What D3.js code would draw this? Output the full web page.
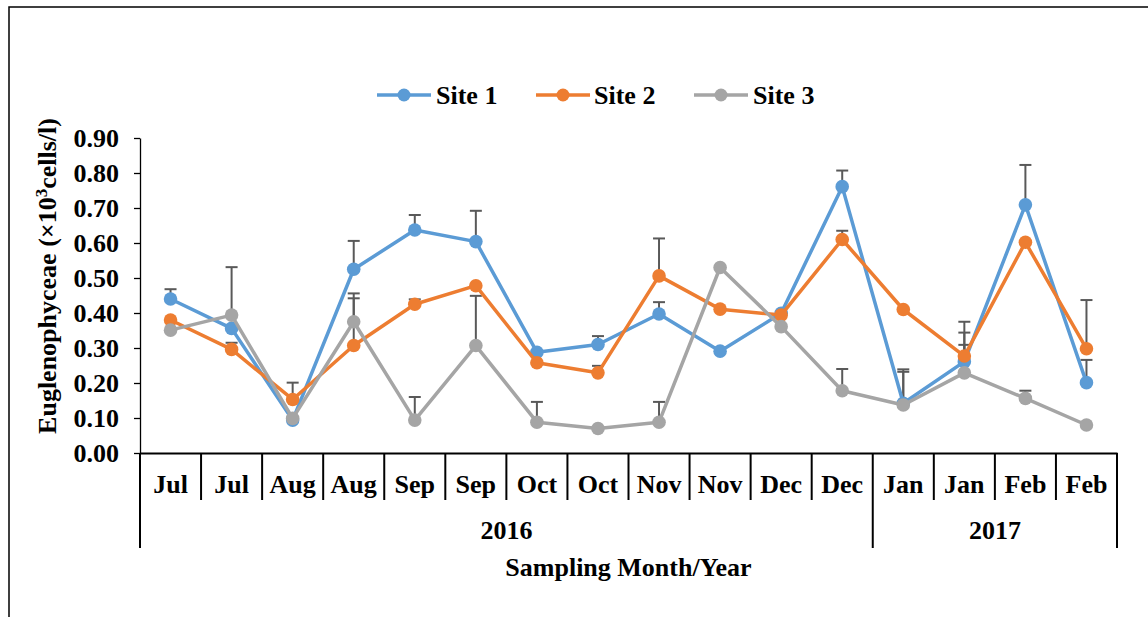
<!DOCTYPE html>
<html>
<head>
<meta charset="utf-8">
<script src="https://cdn.jsdelivr.net/npm/d3@7"></script>
<style>
  html, body { margin: 0; padding: 0; background: #fff; }
  svg { display: block; }
  svg text { font-family: "Liberation Serif", Tinos, "Times New Roman", Times, "DejaVu Serif", serif !important; font-weight: bold; fill: #000; }
</style>
</head>
<body>
<svg id="chart" width="1148" height="617"></svg>
<script>
// Sampling months (two samplings per month) and the year groups below them
const months = ["Jul","Jul","Aug","Aug","Sep","Sep","Oct","Oct","Nov","Nov","Dec","Dec","Jan","Jan","Feb","Feb"];
const yearLabels = ["2016", "2017"];
const yearSpans = [12, 4];

// Euglenophyceae density (×10³ cells/l) per site
const site1 = [0.44, 0.356, 0.094, 0.525, 0.637, 0.604, 0.288, 0.31, 0.397, 0.291, 0.399, 0.761, 0.142, 0.261, 0.709, 0.201];
const site2 = [0.38, 0.296, 0.153, 0.307, 0.425, 0.478, 0.258, 0.229, 0.506, 0.411, 0.394, 0.61, 0.41, 0.277, 0.602, 0.298];
const site3 = [0.351, 0.394, 0.099, 0.375, 0.094, 0.307, 0.088, 0.07, 0.088, 0.53, 0.361, 0.178, 0.137, 0.229, 0.156, 0.08];

// Upper error (standard deviation), null where no bar is drawn
const site1Err = [0.028, null, null, 0.081, 0.043, 0.088, null, 0.024, 0.034, null, null, 0.046, 0.097, 0.114, 0.114, 0.065];
const site2Err = [null, 0.019, 0.048, 0.135, 0.014, null, null, 0.02, 0.107, null, null, 0.025, null, 0.067, null, 0.139];
const site3Err = [null, 0.137, null, 0.081, 0.066, 0.142, 0.058, null, 0.058, null, null, 0.062, 0.095, 0.08, 0.022, null];

const seriesNames = ["Site 1", "Site 2", "Site 3"];
const seriesColors = ["#5B9BD5", "#ED7D31", "#A5A5A5"];
const yTicks = [0, 0.1, 0.2, 0.3, 0.4, 0.5, 0.6, 0.7, 0.8, 0.9];

const series = [
  { name: seriesNames[0], color: seriesColors[0], values: site1, err: site1Err },
  { name: seriesNames[1], color: seriesColors[1], values: site2, err: site2Err },
  { name: seriesNames[2], color: seriesColors[2], values: site3, err: site3Err }
];

const FONT = '"Liberation Serif", Tinos, "Times New Roman", Times, "DejaVu Serif", serif';

const svg = d3.select("#chart");
const plot = { left: 140, right: 1117, top: 138, bottom: 453 };

// outer frame
svg.append("rect")
  .attr("x", 9).attr("y", 7).attr("width", 1400).attr("height", 800)
  .attr("fill", "none").attr("stroke", "#000").attr("stroke-width", 1.5);

const x = d3.scaleBand()
  .domain(d3.range(months.length))
  .range([plot.left, plot.right])
  .padding(0);

const y = d3.scaleLinear()
  .domain([0, 0.9])
  .range([plot.bottom, plot.top]);

// y axis
const yAxis = d3.axisLeft(y)
  .tickValues(yTicks)
  .tickFormat(d3.format(".2f"))
  .tickSize(6)
  .tickSizeOuter(0);

const yg = svg.append("g")
  .attr("transform", `translate(${plot.left},0)`)
  .call(yAxis)
  .attr("font-family", FONT)
  .attr("font-size", 26);
yg.select(".domain").attr("stroke", "#000").attr("stroke-width", 1.3);
yg.selectAll(".tick line").attr("stroke", "#000").attr("stroke-width", 1.3);
yg.selectAll(".tick text")
  .attr("x", -21)
  .attr("dy", "0.34em")
  .style("font-size", "26px")
  .attr("fill", "#000");

// x axis: baseline plus category separators
const xAxis = d3.axisBottom(x).tickSize(0).tickFormat(i => months[i]);
const xg = svg.append("g")
  .attr("transform", `translate(0,${plot.bottom})`)
  .call(xAxis)
  .attr("font-family", FONT)
  .attr("font-size", 26);
xg.select(".domain").attr("stroke", "#000").attr("stroke-width", 2.2);
xg.selectAll(".tick text")
  .attr("y", 40)
  .attr("dy", 0)
  .style("font-size", "26px")
  .attr("fill", "#000");

// year boundaries (long separators)
const yearBounds = [0];
yearSpans.forEach((s, i) => yearBounds.push(yearBounds[i] + s));
const boundaryX = i => (i < months.length ? x(i) : x(months.length - 1) + x.bandwidth());

d3.range(months.length + 1).forEach(i => {
  const isYear = yearBounds.includes(i);
  svg.append("line")
    .attr("x1", boundaryX(i)).attr("x2", boundaryX(i))
    .attr("y1", plot.bottom).attr("y2", isYear ? 548 : 500)
    .attr("stroke", "#000").attr("stroke-width", 2);
});

yearLabels.forEach((lab, i) => {
  const x0 = boundaryX(yearBounds[i]);
  const x1 = boundaryX(yearBounds[i + 1]);
  svg.append("text")
    .attr("x", (x0 + x1) / 2).attr("y", 539)
    .attr("text-anchor", "middle")
    .style("font-size", "26px")
    .text(lab);
});

// axis titles
svg.append("text")
  .attr("x", (plot.left + plot.right) / 2).attr("y", 576)
  .attr("text-anchor", "middle")
  .style("font-size", "26px")
  .text("Sampling Month/Year");

const yTitle = svg.append("text")
  .attr("transform", `translate(56,276) rotate(-90)`)
  .attr("text-anchor", "middle")
  .style("font-size", "26px");
yTitle.append("tspan").text("Euglenophyceae (×10");
yTitle.append("tspan").attr("dy", -9).style("font-size", "17px").text("3");
yTitle.append("tspan").attr("dy", 9).text("cells/l)");

const cx = i => x(i) + x.bandwidth() / 2;
const line = d3.line().x((d, i) => cx(i)).y(d => y(d));

// error bars (upper only)
series.forEach(s => {
  const g = svg.append("g");
  s.values.forEach((v, i) => {
    const e = s.err[i];
    if (e == null) return;
    g.append("line")
      .attr("x1", cx(i)).attr("x2", cx(i))
      .attr("y1", y(v)).attr("y2", y(v + e))
      .attr("stroke", "#595959").attr("stroke-width", 2);
    g.append("line")
      .attr("x1", cx(i) - 6).attr("x2", cx(i) + 6)
      .attr("y1", y(v + e)).attr("y2", y(v + e))
      .attr("stroke", "#595959").attr("stroke-width", 2);
  });
});

// series lines and markers
series.forEach(s => {
  svg.append("path")
    .datum(s.values)
    .attr("d", line)
    .attr("fill", "none")
    .attr("stroke", s.color)
    .attr("stroke-width", 3.5)
    .attr("stroke-linejoin", "round");
  svg.append("g").selectAll("circle")
    .data(s.values)
    .join("circle")
    .attr("cx", (d, i) => cx(i))
    .attr("cy", d => y(d))
    .attr("r", 6.8)
    .attr("fill", s.color);
});

// legend
const legendItems = [
  { lx: 377, tx: 436 },
  { lx: 536, tx: 594 },
  { lx: 694, tx: 753 }
];
series.forEach((s, i) => {
  const g = svg.append("g");
  const ly = 95;
  g.append("line")
    .attr("x1", legendItems[i].lx).attr("x2", legendItems[i].lx + 54)
    .attr("y1", ly).attr("y2", ly)
    .attr("stroke", s.color).attr("stroke-width", 3.5);
  g.append("circle")
    .attr("cx", legendItems[i].lx + 27).attr("cy", ly).attr("r", 6.5)
    .attr("fill", s.color);
  g.append("text")
    .attr("x", legendItems[i].tx).attr("y", ly + 9)
    .style("font-size", "26px")
    .text(s.name);
});
</script>
</body>
</html>
